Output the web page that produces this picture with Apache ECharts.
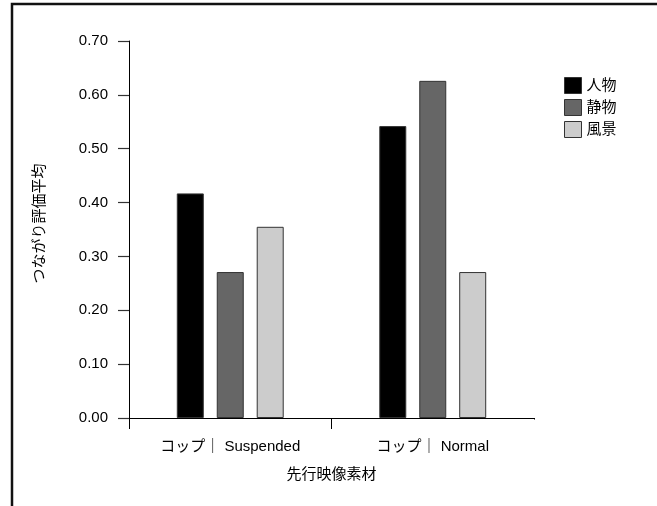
<!DOCTYPE html>
<html><head><meta charset="utf-8">
<script src="https://cdn.jsdelivr.net/npm/echarts@6/dist/echarts.min.js"></script>
<style>html,body{margin:0;padding:0;background:#fff}#c{width:657px;height:506px}</style>
</head><body><div id="c"></div>
<script>
const categories = ['コップ｜ Suspended', 'コップ｜ Normal'];
const seriesNames = ['人物', '静物', '風景'];
const jinbutsu = [0.417, 0.542];
const seibutsu = [0.271, 0.626];
const fukei = [0.355, 0.271];
const yTicks = ['0.00','0.10','0.20','0.30','0.40','0.50','0.60','0.70'];
const colors = ['#000000', '#666666', '#cccccc'];
const values = [jinbutsu, seibutsu, fukei];

const font = '"Liberation Sans", "Noto Sans CJK JP", sans-serif';
const chart = echarts.init(document.getElementById('c'), null, {renderer: 'canvas'});
const frame = {type: 'rect', id: 'frame', shape: {x: 12, y: 4, width: 700, height: 600},
    style: {fill: null, stroke: '#111', lineWidth: 2.5}, silent: true};
chart.setOption({
  animation: false,
  textStyle: {fontFamily: font},
  graphic: [frame],
  grid: {left: 129, top: 41, right: 123, bottom: 88, containLabel: false},
  legend: {
    orient: 'vertical', left: 559, top: 72, icon: 'rect', itemWidth: 17, itemHeight: 16,
    itemGap: 5, data: seriesNames,
    textStyle: {fontSize: 15, color: '#000', fontFamily: font},
    itemStyle: {borderColor: '#333', borderWidth: 1}
  },
  xAxis: {
    type: 'category', data: categories, boundaryGap: true,
    name: '先行映像素材', nameLocation: 'middle', nameGap: 49,
    nameTextStyle: {fontSize: 15, color: '#000', fontFamily: font},
    axisLine: {lineStyle: {color: '#000', width: 1}},
    axisTick: {show: true, length: 11, lineStyle: {color: '#000'}},
    axisLabel: {fontSize: 15, color: '#000', margin: 21, fontFamily: font}
  },
  yAxis: {
    type: 'value', min: 0, max: 0.7, interval: 0.1,
    name: 'つながり評価平均', nameLocation: 'middle', nameGap: 82,
    nameTextStyle: {fontSize: 15, color: '#000', fontFamily: font, padding: [0, 0, 0, 12]},
    axisLine: {show: true, lineStyle: {color: '#000', width: 1}},
    axisTick: {show: true, length: 11, lineStyle: {color: '#333', width: 1.2}},
    splitLine: {show: false},
    axisLabel: {fontSize: 15, color: '#000', margin: 21, fontFamily: font,
      formatter: (v) => yTicks[Math.round(v * 10)]}
  },
  series: seriesNames.map((n, i) => ({
    name: n, type: 'bar', data: values[i], barWidth: 27, barGap: '48%',
    itemStyle: {color: colors[i], borderColor: '#333', borderWidth: 1}
  }))
});
// hide the trailing boundary tick at the right end of the x axis (not present in reference)
const c0 = chart.convertToPixel({xAxisIndex: 0}, 0);
const c1 = chart.convertToPixel({xAxisIndex: 0}, 1);
const xr = c1 + (c1 - c0) / 2;
const y0 = chart.convertToPixel({yAxisIndex: 0}, 0);
chart.setOption({graphic: [frame, {type: 'line', id: 'mask', silent: true, z: 100, zlevel: 0,
  shape: {x1: xr, y1: y0 + 1.5, x2: xr, y2: y0 + 14}, style: {stroke: '#fff', lineWidth: 4}}]});
</script></body></html>
